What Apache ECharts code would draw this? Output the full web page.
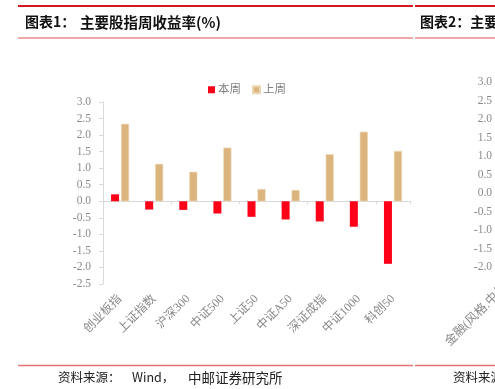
<!DOCTYPE html>
<html><head><meta charset="utf-8">
<script src="https://cdn.jsdelivr.net/npm/echarts@6/dist/echarts.min.js"></script>
<style>html,body{margin:0;padding:0;background:#fff;}#c{width:495px;height:389px;}</style>
</head><body><div id="c"></div>
<script>
const categories = ['创业板指','上证指数','沪深300','中证500','上证50','中证A50','深证成指','中证1000','科创50'];
const thisWeek = [0.21, -0.25, -0.26, -0.37, -0.47, -0.55, -0.61, -0.77, -1.89];
const lastWeek = [2.34, 1.13, 0.89, 1.62, 0.37, 0.34, 1.42, 2.10, 1.52];
const seriesNames = ['本周', '上周'];
const title1Parts = ['图表1：', '主要股指周收益率(%)'];
const title2 = '图表2：主要风格指数周收益率(%)';
const sourceParts = ['资料来源：', 'Wind，', '中邮证券研究所'];
const categories2 = ['金融(风格.中信)','周期(风格.中信)','消费(风格.中信)','成长(风格.中信)','稳定(风格.中信)'];

const serif = "'Liberation Serif', 'Noto Sans CJK SC', serif";
const axisGray = '#d9d9d9';
const labelGray = '#8a8a8a';

const chart = echarts.init(document.getElementById('c'), null, {renderer:'canvas'});
chart.setOption({
  animation: false,
  backgroundColor: '#fff',
  legend: {
    data: seriesNames, left: 203, top: 79, icon: 'rect', itemWidth: 7, itemHeight: 7, itemGap: 11,
    textStyle: {fontSize: 11.5, color: '#808080', fontFamily: serif, padding: [0, 0, 0, -2]}
  },
  grid: [
    {left: 103, right: 85, top: 102, bottom: 105},
    {left: 503, width: 220, top: 82, bottom: 122}
  ],
  xAxis: [
    {type: 'category', data: categories, gridIndex: 0, position: 'bottom',
     axisLine: {show: false, onZero: false}, axisTick: {show: false},
     axisLabel: {rotate: 45, interval: 0, margin: 13, fontSize: 12, color: labelGray, fontFamily: serif}},
    {type: 'category', data: categories, gridIndex: 0, position: 'bottom',
     axisLine: {show: true, onZero: true, lineStyle: {color: axisGray, width: 1}},
     axisTick: {show: true, length: 3, lineStyle: {color: axisGray}},
     axisLabel: {show: false}},
    {type: 'category', data: categories2, gridIndex: 1, position: 'bottom',
     axisLine: {show: false, onZero: false}, axisTick: {show: false},
     axisLabel: {rotate: 45, interval: 0, margin: 16, fontSize: 12.5, color: labelGray, fontFamily: serif,
                 formatter: (v, i) => i === 0 ? v : ''}}
  ],
  yAxis: [
    {type: 'value', gridIndex: 0, min: -2.5, max: 3, interval: 0.5,
     axisLine: {show: true, lineStyle: {color: axisGray}},
     axisTick: {show: true, length: 4, lineStyle: {color: axisGray}},
     splitLine: {show: false},
     axisLabel: {margin: 12, fontSize: 11.5, color: labelGray, fontFamily: serif, formatter: v => v.toFixed(1)}},
    {type: 'value', gridIndex: 1, min: -2, max: 3, interval: 0.5,
     axisLine: {show: true, lineStyle: {color: axisGray}},
     axisTick: {show: true, length: 4, lineStyle: {color: axisGray}},
     splitLine: {show: false},
     axisLabel: {margin: 11, fontSize: 11.5, color: labelGray, fontFamily: serif, formatter: v => v.toFixed(1)}}
  ],
  series: [
    {name: seriesNames[0], type: 'bar', xAxisIndex: 0, yAxisIndex: 0, data: thisWeek,
     barWidth: 8, barGap: '25%', itemStyle: {color: '#FF0019'}},
    {name: seriesNames[1], type: 'bar', xAxisIndex: 0, yAxisIndex: 0, data: lastWeek,
     barWidth: 8, barGap: '25%', itemStyle: {color: '#DBB47E', borderColor: '#EBD5B2', borderWidth: 0.6}}
  ],
  graphic: [
    {type: 'line', shape: {x1: 18, y1: 6, x2: 413, y2: 6}, style: {stroke: '#D4141E', lineWidth: 2}},
    {type: 'line', shape: {x1: 415, y1: 6, x2: 495, y2: 6}, style: {stroke: '#D4141E', lineWidth: 2}},
    {type: 'line', shape: {x1: 18, y1: 38, x2: 413, y2: 38}, style: {stroke: '#E88A8A', lineWidth: 1.3}},
    {type: 'line', shape: {x1: 415, y1: 38, x2: 495, y2: 38}, style: {stroke: '#E88A8A', lineWidth: 1.3}},
    {type: 'line', shape: {x1: 18, y1: 365.5, x2: 413, y2: 365.5}, style: {stroke: '#E57373', lineWidth: 1.3}},
    {type: 'line', shape: {x1: 415, y1: 365.5, x2: 495, y2: 365.5}, style: {stroke: '#E57373', lineWidth: 1.3}},
    {type: 'text', left: 25, top: 15, style: {text: title1Parts[0], font: "bold 14px 'Noto Sans CJK SC'", fill: '#111'}},
    {type: 'text', left: 80, top: 15, style: {text: title1Parts[1], font: "bold 14.5px 'Noto Sans CJK SC'", fill: '#111'}},
    {type: 'text', left: 420, top: 15, style: {text: title2, font: "bold 14px 'Noto Sans CJK SC'", fill: '#111'}},
    {type: 'text', left: 58, top: 371, style: {text: sourceParts[0], font: "12.5px 'Noto Sans CJK SC'", fill: '#222'}},
    {type: 'text', left: 132, top: 371, style: {text: sourceParts[1], font: "12.5px 'Noto Sans CJK SC'", fill: '#222'}},
    {type: 'text', left: 188, top: 371, style: {text: sourceParts[2], font: "13.5px 'Noto Sans CJK SC'", fill: '#222'}},
    {type: 'text', left: 453, top: 371, style: {text: sourceParts.join(''), font: "12.5px 'Noto Sans CJK SC'", fill: '#222'}}
  ]
});
</script></body></html>
